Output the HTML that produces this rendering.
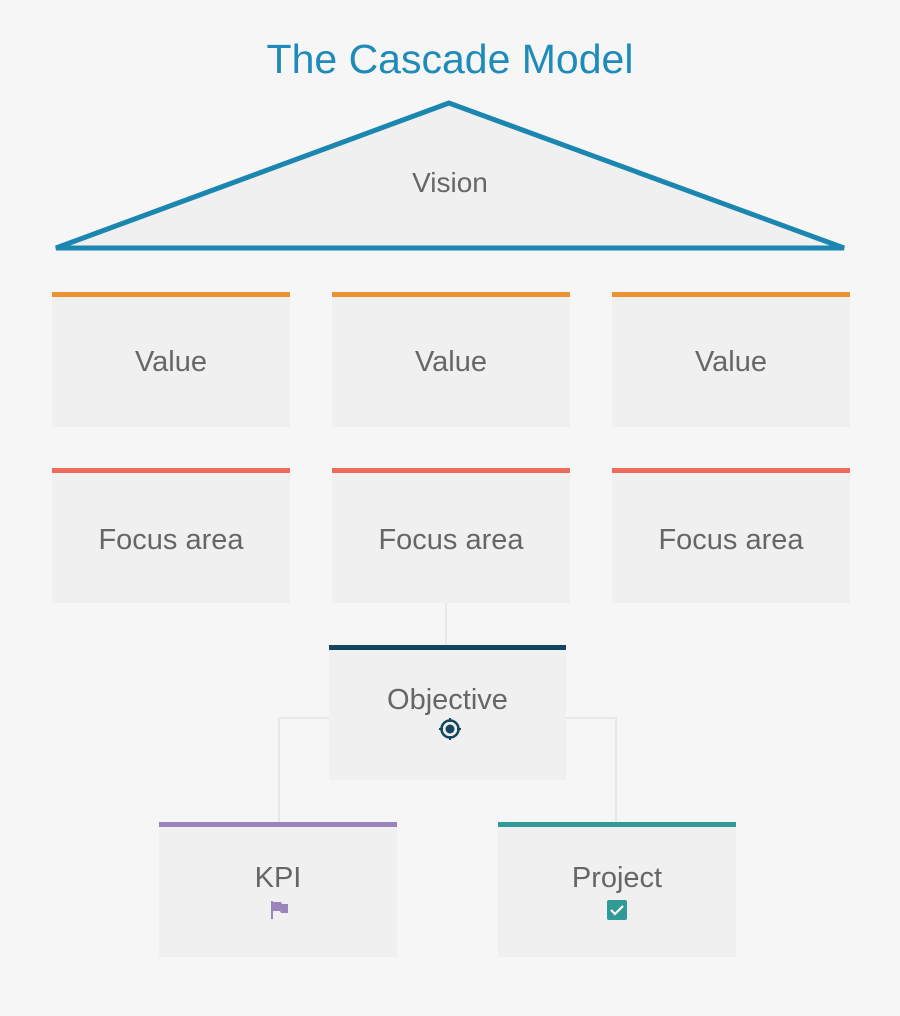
<!DOCTYPE html>
<html><head><style>
body{margin:0;width:900px;height:1016px;background:#f6f6f6;font-family:"Liberation Sans",sans-serif;position:relative;overflow:hidden}
.b{position:absolute;background:#f0f0f0;box-sizing:border-box;color:#666;font-size:29px;text-align:center}
.t{position:absolute;left:0;right:0}
</style></head><body>
<svg width="900" height="1016" style="position:absolute;left:0;top:0">
<polygon points="449,103 56,248 844,248" fill="#f0f0f0" stroke="#1b87b1" stroke-width="5" stroke-linejoin="miter"/>
<g stroke="#e8e8e8" stroke-width="2" fill="none">
<line x1="446" y1="603" x2="446" y2="645"/>
<polyline points="329,718 279,718 279,822"/>
<polyline points="566,718 616,718 616,822"/>
</g>
<text x="450" y="73" text-anchor="middle" font-family="Liberation Sans" font-size="41" fill="#1f8bb8">The Cascade Model</text>
<text x="450" y="192" text-anchor="middle" font-family="Liberation Sans" font-size="28" fill="#666">Vision</text>
</svg>
<div class="b" style="left:52px;top:292px;width:238px;height:135px;border-top:5px solid #ec9134"><div class="t" style="top:49px">Value</div></div>
<div class="b" style="left:332px;top:292px;width:238px;height:135px;border-top:5px solid #ec9134"><div class="t" style="top:49px">Value</div></div>
<div class="b" style="left:612px;top:292px;width:238px;height:135px;border-top:5px solid #ec9134"><div class="t" style="top:49px">Value</div></div>
<div class="b" style="left:52px;top:468px;width:238px;height:135px;border-top:5px solid #ec6b5b"><div class="t" style="top:51px">Focus area</div></div>
<div class="b" style="left:332px;top:468px;width:238px;height:135px;border-top:5px solid #ec6b5b"><div class="t" style="top:51px">Focus area</div></div>
<div class="b" style="left:612px;top:468px;width:238px;height:135px;border-top:5px solid #ec6b5b"><div class="t" style="top:51px">Focus area</div></div>
<div class="b" style="left:329px;top:645px;width:237px;height:135px;border-top:5px solid #124560"><div class="t" style="top:34px">Objective</div>
<svg style="position:absolute;left:108px;top:66px" width="26" height="26" viewBox="0 0 26 26"><circle cx="13" cy="13" r="8.5" fill="none" stroke="#124560" stroke-width="2.5"/><circle cx="13" cy="13" r="4.5" fill="#124560"/><path d="M13 2v4M13 20v4M2 13h4M20 13h4" stroke="#124560" stroke-width="2"/></svg></div>
<div class="b" style="left:159px;top:822px;width:238px;height:135px;border-top:5px solid #9b84bb"><div class="t" style="top:35px">KPI</div>
<svg style="position:absolute;left:109px;top:72px" width="22" height="22" viewBox="0 0 22 22"><path d="M3 2h2v18H3zM5 3h8l1 2h6v9h-7l-1-2H5z" fill="#9b84bb"/></svg></div>
<div class="b" style="left:498px;top:822px;width:238px;height:135px;border-top:5px solid #2f9a96"><div class="t" style="top:35px">Project</div>
<svg style="position:absolute;left:108px;top:72px" width="22" height="22" viewBox="0 0 22 22"><rect x="1" y="1" width="20" height="20" rx="2" fill="#2f9a96"/><path d="M5 11l4 4 8-8" stroke="#fff" stroke-width="2.2" fill="none"/></svg></div>
</body></html>
